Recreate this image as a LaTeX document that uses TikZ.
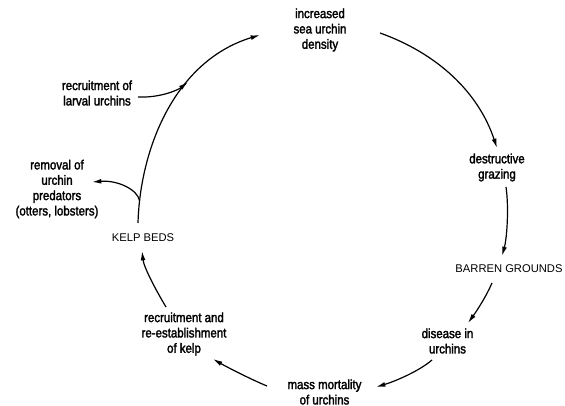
\documentclass[tikz,border=0pt]{standalone}
\usepackage{fontspec}
\setmainfont{Liberation Sans}
\newfontfamily\labelfont[FakeStretch=0.86,FakeBold=2]{Liberation Sans}
\usetikzlibrary{arrows.meta}

\tikzset{every picture/.style={line width=0.75pt}}
\tikzset{
  lbl/.style={anchor=center, inner sep=1pt, align=center, font=\labelfont\fontsize{10}{11.5}\selectfont},
  capsnode/.style={anchor=center, inner sep=1pt, font=\fontsize{8.4}{10}\selectfont},
  cyc/.style={line width=0.9pt, -{Latex[length=7pt,width=3.6pt]}}
}

\begin{document}
\begin{tikzpicture}[x=0.75pt,y=0.75pt,yscale=-1,xscale=1]
\useasboundingbox (0,0) rectangle (565,406);

% Text Node
\node [lbl] (inc) at (320,30) {increased\\sea urchin\\density};
% Text Node
\node [lbl] (graz) at (497,167.5) {destructive\\grazing};
% Text Node
\node [capsnode] (barren) at (509,269) {BARREN GROUNDS};
% Text Node
\node [lbl] (disease) at (447.5,341) {disease in\\urchins};
% Text Node
\node [lbl] (mass) at (324.5,392) {mass mortality\\of urchins};
% Text Node
\node [lbl] (rekelp) at (184,334) {recruitment and\\re-establishment\\of kelp};
% Text Node
\node [capsnode] (kelp) at (143,238) {KELP BEDS};
% Text Node
\node [lbl] (larval) at (97,93) {recruitment of\\larval urchins};
% Text Node
\node [lbl] (pred) at (57,189) {removal of\\urchin\\predators\\(otters, lobsters)};

%Curve Lines
\draw [cyc] ([shift={(-5,-15)}]kelp.center) .. controls +(2,-73) and +(-86,26) .. ([shift={(-60,5)}]inc.center) coordinate [pos=0.1] (fork) coordinate [pos=0.65] (join);
%Curve Lines
\draw [cyc] ([shift={(41,4)}]larval.center) .. controls +(22,1) and +(-10,8) .. (join);
%Curve Lines
\draw [cyc] (fork) .. controls +(-2,-11) and +(26,-2) .. ([shift={(35,-7)}]pred.center);
%Curve Lines
\draw [cyc] ([shift={(60,3)}]inc.center) .. controls +(56,20) and +(-19,-57) .. ([shift={(0,-19.5)}]graz.center);
%Curve Lines
\draw [cyc] ([shift={(9,19.5)}]graz.center) .. controls +(3,20) and +(5,-18) .. ([shift={(-7,-13)}]barren.center);
%Curve Lines
\draw [cyc] ([shift={(-17,14)}]barren.center) .. controls +(-6,14) and +(8,-11) .. ([shift={(20.5,-18)}]disease.center);
%Curve Lines
\draw [cyc] ([shift={(-15.5,19)}]disease.center) .. controls +(-14,12) and +(17,-5) .. ([shift={(51.5,-5)}]mass.center);
%Curve Lines
\draw [cyc] ([shift={(-57.5,-6)}]mass.center) .. controls +(-17,-7) and +(12,7) .. ([shift={(29,25)}]rekelp.center);
%Curve Lines
\draw [cyc] ([shift={(-18,-27)}]rekelp.center) .. controls +(-9,-15) and +(2,17) .. ([shift={(-1,13)}]kelp.center);

\end{tikzpicture}
\end{document}
